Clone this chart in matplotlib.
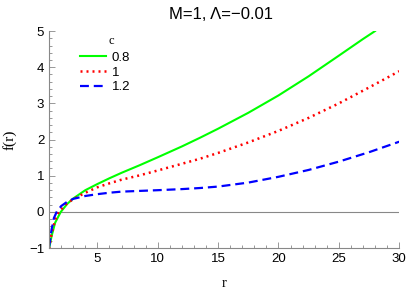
import matplotlib
matplotlib.use('Agg')
import matplotlib.pyplot as plt
from matplotlib.ticker import MultipleLocator

# values
r_08 = [1.0, 1.2, 1.5, 1.97, 2.5, 3.0, 4.0, 5.0, 6.0, 7.0, 8.5, 10.0, 12.0,
        13.5, 15.0, 17.5, 20.0, 22.5, 25.0, 27.0, 28.0]
f_08 = [-1.02, -0.68, -0.30, 0.0, 0.22, 0.37, 0.60, 0.77, 0.93, 1.08, 1.29,
        1.51, 1.81, 2.05, 2.30, 2.74, 3.22, 3.75, 4.32, 4.78, 5.0]

r_10 = [1.0, 1.2, 1.5, 1.8, 2.5, 3.0, 4.0, 5.0, 6.0, 7.0, 8.5, 10.0, 12.0,
        13.5, 15.0, 17.5, 20.0, 22.5, 25.0, 27.5, 30.0]
f_10 = [-1.02, -0.62, -0.22, 0.0, 0.24, 0.35, 0.53, 0.68, 0.79, 0.89, 1.01,
        1.145, 1.33, 1.47, 1.63, 1.92, 2.24, 2.60, 3.00, 3.44, 3.89]

r_12 = [1.0, 1.2, 1.4, 1.63, 2.0, 2.5, 3.0, 4.0, 5.0, 6.0, 7.0, 8.5, 10.0,
        12.0, 13.5, 15.0, 17.5, 20.0, 22.5, 25.0, 27.5, 30.0]
f_12 = [-0.97, -0.50, -0.17, 0.0, 0.16, 0.28, 0.36, 0.44, 0.49, 0.53, 0.56,
        0.58, 0.60, 0.63, 0.66, 0.70, 0.81, 0.97, 1.16, 1.39, 1.65, 1.94]

c_labels = ['0.8', '1', '1.2']

gray = '#888888'

fig = plt.figure(figsize=(4.09, 2.96), dpi=100)
ax = fig.add_axes([0.120, 0.162, 0.856, 0.733])

ax.axhline(0, color=gray, lw=0.8, zorder=1)

l1, = ax.plot(r_08, f_08, color='#00ff00', lw=1.5, label=c_labels[0])
l2, = ax.plot(r_10, f_10, color='#ff0000', lw=1.8, ls=(0, (0.8, 1.6)),
              label=c_labels[1])
l3, = ax.plot(r_12, f_12, color='#0000ff', lw=1.6, ls=(0, (4, 2.2)),
              label=c_labels[2])

ax.set_xlim(1, 30)
ax.set_ylim(-1, 5)

for s in ['top', 'right']:
    ax.spines[s].set_visible(False)
for s in ['left', 'bottom']:
    ax.spines[s].set_color(gray)
    ax.spines[s].set_linewidth(0.8)

ax.xaxis.set_minor_locator(MultipleLocator(1))
ax.yaxis.set_minor_locator(MultipleLocator(0.2))
ax.tick_params(which='both', direction='in', color=gray, width=0.6,
               labelsize=9.5)
ax.tick_params(which='major', length=4)
ax.tick_params(which='minor', length=2)
ax.set_xticks([5, 10, 15, 20, 25, 30])
ax.set_xticklabels(['5', '10', '15', '20', '25', '30'], family='Liberation Sans')
ax.set_yticks([-1, 0, 1, 2, 3, 4, 5])
ax.set_yticklabels(['\u22121', '0', '1', '2', '3', '4', '5'], family='Liberation Sans')

ax.set_xlabel('r', family='Liberation Serif', fontsize=10.5, labelpad=9)
ax.set_ylabel('f(r)', family='Liberation Serif', fontsize=11, labelpad=9)
ax.set_title('M=1, \u039b=\u22120.01', family='Liberation Sans', fontsize=12,
             pad=9, x=0.49)

leg = ax.legend(handles=[l1, l2, l3], loc='upper left',
                bbox_to_anchor=(0.088, 0.905), frameon=False, fontsize=9.5,
                handlelength=2.0, handletextpad=0.4, labelspacing=0.18,
                borderaxespad=0.0, borderpad=0.0)
for t in leg.get_texts():
    t.set_family('Liberation Sans')
fig.text(111 / 409, 1 - 41 / 296, 'c', family='Liberation Serif', fontsize=9,
         ha='center', va='center')

fig.savefig('out.png', dpi=100)
